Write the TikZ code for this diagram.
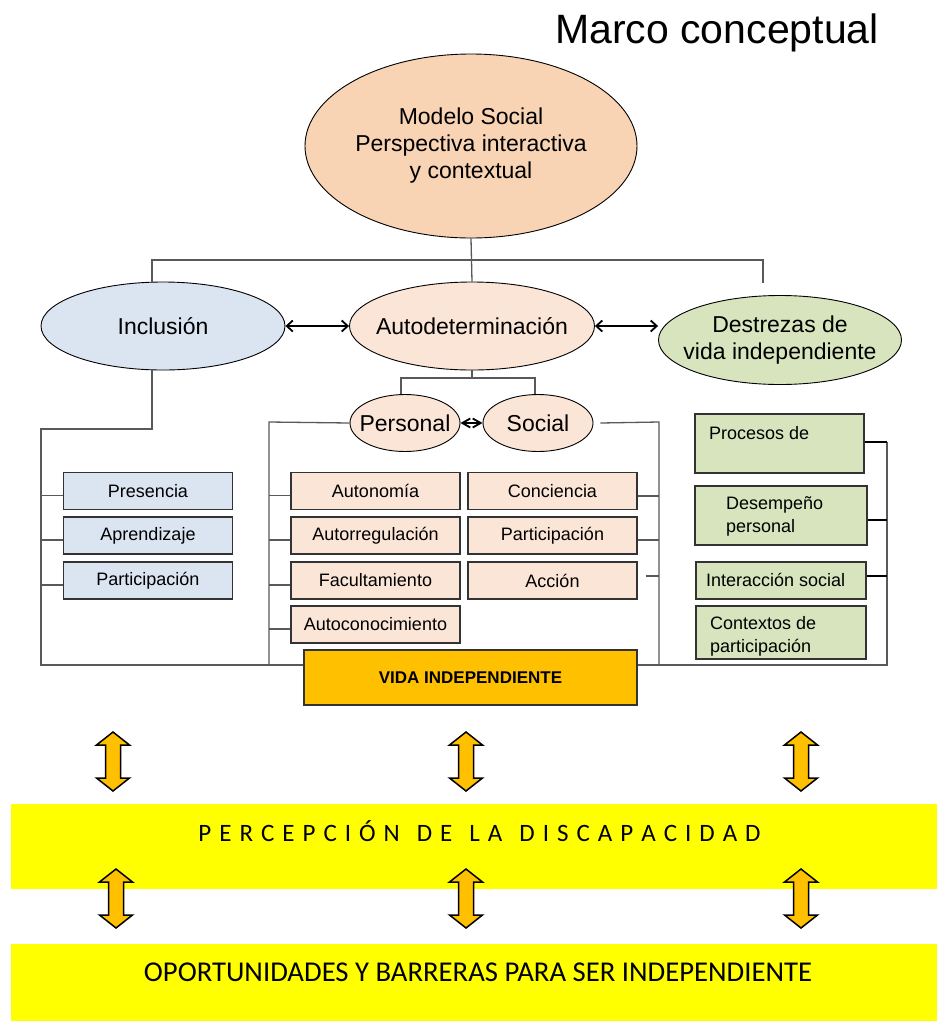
\documentclass[tikz,border=0pt]{standalone}
\usepackage{fontspec}
\setmainfont{Liberation Sans}
\newfontfamily\calib{Carlito}
\usetikzlibrary{arrows.meta,shapes.geometric}
\definecolor{peachA}{HTML}{F8D3B4}
\definecolor{peachB}{HTML}{FBE5D6}
\definecolor{blueA}{HTML}{DBE4F1}
\definecolor{greenA}{HTML}{D7E4BD}
\definecolor{goldA}{HTML}{FFC000}
\definecolor{lineg}{HTML}{595959}
\definecolor{yelA}{HTML}{FFFF00}
\tikzset{
 conn/.style={draw=lineg, line width=1.3pt},
 ell/.style={ellipse, draw=black, line width=0.9pt, inner sep=-20pt, font=\fontsize{23}{27}\selectfont, align=center},
 bx/.style={rectangle, draw=black!80, line width=1.3pt, inner sep=0pt, minimum width=169pt, minimum height=37pt, font=\fontsize{18}{21}\selectfont},
 gt/.style={inner sep=0pt, font=\fontsize{18}{23}\selectfont, align=left},
 dbl/.style={{Straight Barb[length=6pt,width=11pt]}-{Straight Barb[length=6pt,width=11pt]}, line width=1.8pt, black},
 dblshort/.style={{Straight Barb[length=8pt,width=9pt]}-{Straight Barb[length=8pt,width=9pt]}, line width=1.8pt, black},
 band/.style={fill=yelA, draw=none, inner sep=0pt, anchor=north west},
 updown/.pic={\draw[fill=goldA, draw=black, line width=1.5pt, line join=miter]
   (0,0) -- (16.5,13) -- (7.5,13) -- (7.5,46) -- (16.5,46) -- (0,59) -- (-16.5,46)
   -- (-7.5,46) -- (-7.5,13) -- (-16.5,13) -- cycle;}
}
\begin{document}
\begin{tikzpicture}[x=1pt,y=-1pt]
\useasboundingbox (0,0) rectangle (937,1021);

% title
\node[font=\fontsize{41}{49}\selectfont] (title) at (717,33) {Marco conceptual};

% top ellipse
\node[ell, fill=peachA, minimum width=332pt, minimum height=184pt] (model) at (471,146)
  {Modelo Social\\Perspectiva interactiva\\y contextual};

% second level ellipses
\node[ell, fill=blueA, minimum width=244pt, minimum height=88pt] (incl) at (163,326) {Inclusión};
\node[ell, fill=peachB, minimum width=245pt, minimum height=88pt] (auto) at (472,326) {Autodeterminación};
\node[ell, fill=greenA, minimum width=243pt, minimum height=89pt] (dest) at (780,340) {Destrezas de\\vida independiente};

% personal / social
\node[ell, fill=peachB, minimum width=110pt, minimum height=57pt] (pers) at (405,423) {Personal};
\node[ell, fill=peachB, minimum width=110pt, minimum height=57pt] (soc) at (538,423) {Social};

% coordinates for tree lines
\coordinate (hL) at (152,260);
\coordinate (hR) at (763,260);
\coordinate (hRend) at (763,283);
\coordinate (aL) at (401,378);
\coordinate (aR) at (535,378);
\coordinate (cL) at (41,429);
\coordinate (cLb) at (41,665);
\coordinate (cP) at (269,422);
\coordinate (cPb) at (269,665);
\coordinate (cS) at (659,422);
\coordinate (cSb) at (659,665);
\coordinate (cG) at (887,442);
\coordinate (cGb) at (887,665);

% top connectors
\draw[conn] (model.south) -- (auto.north);
\draw[conn] (hRend) -- (hR) -- (hL) -- ([xshift=-11pt]incl.north);
\draw[conn] (auto.south) -- (auto.south |- aL);
\draw[conn] ([xshift=-4pt]pers.north) -- (aL) -- (aR) -- ([xshift=-3pt]soc.north);

% horizontal arrows
\draw[dbl] (incl.east) -- (auto.west);
\draw[dbl] (auto.east) -- (dest.west |- auto.east);
\draw[dblshort] (pers.east) -- (soc.west);

% blue boxes
\node[bx, fill=blueA] (pres) at (148,491) {Presencia};
\node[bx, fill=blueA] (apre) at (148,535.5) {Aprendizaje};
\node[bx, fill=blueA] (part) at (148,580.5) {Participación};

% personal boxes
\node[bx, fill=peachB] (auton) at (375.5,491) {Autonomía};
\node[bx, fill=peachB] (autor) at (375.5,535.5) {Autorregulación};
\node[bx, fill=peachB] (facu) at (375.5,580.5) {Facultamiento};
\node[bx, fill=peachB] (autoc) at (375.5,624.5) {Autoconocimiento};

% social boxes
\node[bx, fill=peachB] (conc) at (552.5,491) {Conciencia};
\node[bx, fill=peachB] (spart) at (552.5,535.5) {Participación};
\node[bx, fill=peachB] (acc) at (552.5,580.5) {Acción};

% green boxes
\node[bx, fill=greenA, minimum width=169pt, minimum height=59pt] (proc) at (779.5,443.5) {};
\node[bx, fill=greenA, minimum width=172pt, minimum height=59pt] (dese) at (781,515.5) {};
\node[bx, fill=greenA, minimum width=170pt, minimum height=37pt] (inter) at (781,580.5) {};
\node[bx, fill=greenA, minimum width=170pt, minimum height=53pt] (cont) at (781,632.5) {};
\node[gt, anchor=west] (proct) at (709,433) {Procesos de};
\node[gt, anchor=west] (deset) at (726,516.5) {Desempeño\\personal};
\node[gt, anchor=west] (intert) at (706,580) {Interacción social};
\node[gt, anchor=west] (contt) at (710,636.5) {Contextos de\\participación};

% vida independiente
\node[draw=black!80, fill=goldA, line width=1.2pt, inner sep=0pt, minimum width=333pt, minimum height=55pt,
  font=\bfseries\fontsize{17}{20}\selectfont] (vida) at (470.5,677.5) {VIDA INDEPENDIENTE};

% tree lines
\draw[conn] ([xshift=-11pt]incl.south) |- (cL) -- (cLb) -- (vida.west |- cLb);
\draw[conn] (pers.west) -- (cP) -- (cPb);
\draw[conn] ([xshift=7pt]soc.east) -- (cS) -- (cSb);
\draw[conn] (vida.east |- cSb) -- (cGb) -- (cG);

\foreach \b in {pres,apre,part}{
  \draw[conn] ([yshift=-4.5pt]\b.west) -- ([yshift=-4.5pt]\b.west -| cL);
}
\foreach \b in {auton,autor,facu,autoc}{
  \draw[conn] ([yshift=-4.5pt]\b.west) -- ([yshift=-4.5pt]\b.west -| cP);
}
\draw[conn] ([yshift=-5pt]conc.east) -- ([yshift=-5pt]conc.east -| cS);
\draw[conn] ([yshift=-4.5pt]spart.east) -- ([yshift=-4.5pt]spart.east -| cS);
\draw[conn] ([xshift=8pt,yshift=4.5pt]acc.east) -- ([yshift=4.5pt]acc.east -| cS);

\draw[conn, draw=black] ([yshift=1.5pt]proc.east) -- ([yshift=1.5pt]proc.east -| cG);
\draw[conn, draw=black] ([yshift=-4.5pt]dese.east) -- ([yshift=-4.5pt]dese.east -| cG);
\draw[conn, draw=black] ([yshift=4.5pt]inter.east) -- ([yshift=4.5pt]inter.east -| cG);

% yellow bands
\node[band, minimum width=926pt, minimum height=85pt] (band1) at (11,804) {};
\node[band, minimum width=926pt, minimum height=77pt] (band2) at (11,944) {};
\node[inner sep=0pt, font=\calib\fontsize{25}{30}\selectfont] (perc) at (479.5,831)
  {\spaceskip=8pt P E R C E P C I Ó N\hspace{17pt}D E\hspace{17pt}L A\hspace{17pt}D I S C A P A C I D A D};
\node[inner sep=0pt, font=\calib\fontsize{28.7}{34}\selectfont] (opor) at (478,972)
  {OPORTUNIDADES Y BARRERAS PARA SER INDEPENDIENTE};

% double block arrows
\pic (u1) at (113,732) {updown};
\pic (u2) at (466,732) {updown};
\pic (u3) at (801,732) {updown};
\pic (d1) at (116,869) {updown};
\pic (d2) at (466,869) {updown};
\pic (d3) at (801,869) {updown};
\end{tikzpicture}
\end{document}
